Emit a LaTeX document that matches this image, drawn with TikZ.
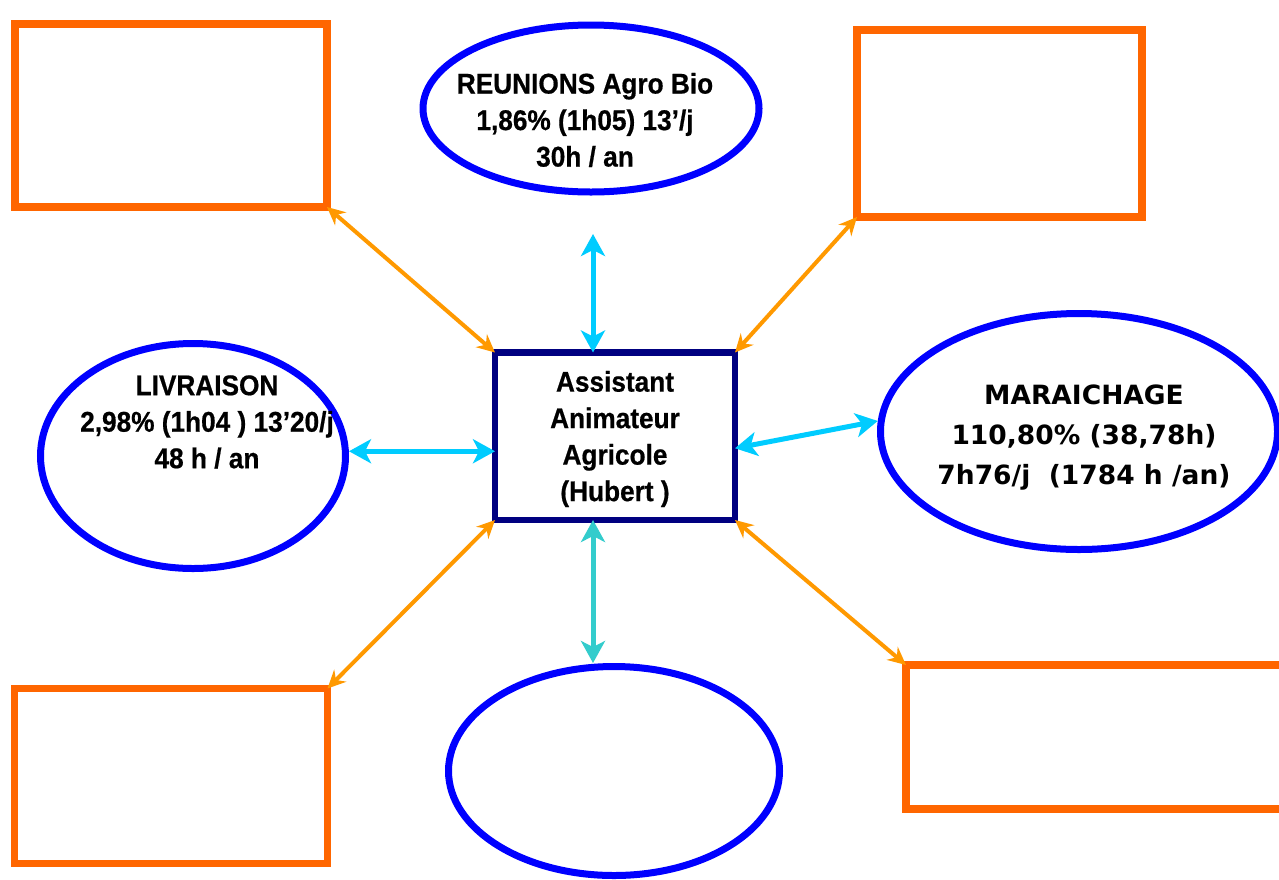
\documentclass[tikz,border=0pt]{standalone}
\usepackage{fontspec}
\setmainfont{Liberation Sans}[BoldFeatures={FakeStretch=0.92,FakeBold=0.6}]
\newfontfamily\comicfont{DejaVu Sans}
\usetikzlibrary{arrows.meta,shapes.geometric,calc}
\definecolor{rectorange}{HTML}{FF6600}
\definecolor{arroworange}{HTML}{FF9900}
\definecolor{ellblue}{HTML}{0000FF}
\definecolor{boxnavy}{HTML}{000080}
\definecolor{skycyan}{HTML}{00CCFF}
\definecolor{tealcyan}{HTML}{33CCCC}
\begin{document}
\begin{tikzpicture}[x=1pt,y=-1pt,
  orect/.style={draw=rectorange,line width=7.5pt,rectangle,inner sep=0pt,outer sep=0pt},
  bell/.style={draw=ellblue,line width=7pt,ellipse,inner sep=0pt,outer sep=3.5pt},
  cbox/.style={draw=boxnavy,line width=6.5pt,rectangle,inner sep=0pt,outer sep=0pt},
  lbl/.style={font=\fontsize{28.5}{36.5}\selectfont\bfseries,align=center,inner sep=0pt},
  mlbl/.style={font=\comicfont\fontsize{26.5}{40}\selectfont\bfseries,align=center,inner sep=0pt},
  oarr/.style={draw=arroworange,line width=4pt,
    {Stealth[length=18pt,width=17pt,inset=6pt]}-{Stealth[length=18pt,width=17pt,inset=6pt]}},
  carr/.style={draw=skycyan,line width=5pt,
    {Stealth[length=22pt,width=24pt,inset=6pt]}-{Stealth[length=22pt,width=24pt,inset=6pt]}},
  tarr/.style={carr,draw=tealcyan},
]
\useasboundingbox (0,0) rectangle (1279,879);
\fill[white] (0,0) rectangle (1279,879);
\clip (0,0) rectangle (1279,879);

% orange rectangles
\node[orect,minimum width=312pt,minimum height=183pt] (tl) at (171,115.5) {};
\node[orect,minimum width=285pt,minimum height=187pt] (tr) at (999.5,123.5) {};
\node[orect,minimum width=313pt,minimum height=175pt] (bl) at (171,776) {};
\node[orect,minimum width=394pt,minimum height=144pt] (br) at (1103,737) {};

% ellipses
\node[bell,minimum width=336pt,minimum height=167pt] (reu) at (591,108.5) {};
\node[bell,minimum width=305pt,minimum height=225pt] (liv) at (193,456) {};
\node[bell,minimum width=397pt,minimum height=236pt] (mar) at (1079,431.5) {};
\node[bell,minimum width=331pt,minimum height=209pt] (botE) at (614,771) {};

% central box
\node[cbox,minimum width=240pt,minimum height=167.5pt] (box) at (615,436.25) {};

% texts
\node[lbl] (reuT) at (585,120) {REUNIONS Agro Bio\\1,86\% (1h05) 13’/j\\30h / an};
\node[lbl] (livT) at (207,422) {LIVRAISON\\2,98\% (1h04 ) 13’20/j\\48 h / an};
\node[mlbl] (marT) at (1084,438) {MARAICHAGE\\110,80\% (38,78h)\\7h76/j\ \ (1784 h /an)};
\node[lbl] (boxT) at (615,439) {Assistant\\Animateur\\Agricole\\(Hubert )};

% orange connectors
\draw[oarr] (tl.south east) -- (box.north west);
\draw[oarr] (tr.south west) -- (box.north east);
\draw[oarr] (bl.north east) -- (box.south west);
\draw[oarr] (br.north west) -- (box.south east);

% cyan connectors
\coordinate (reuEnd) at (593,234);
\draw[carr] (reuEnd) -- (reuEnd |- box.north);
\path ($(box.west)+(0,15)$) coordinate (lw);
\draw[carr] (liv.east |- lw) -- (lw);
\draw[carr] ($(box.east)+(0,12)$) -- (mar.177);
\path ($(box.south)+(-22,0)$) coordinate (bs);
\draw[tarr] (bs) -- (bs |- botE.north);
\end{tikzpicture}
\end{document}
